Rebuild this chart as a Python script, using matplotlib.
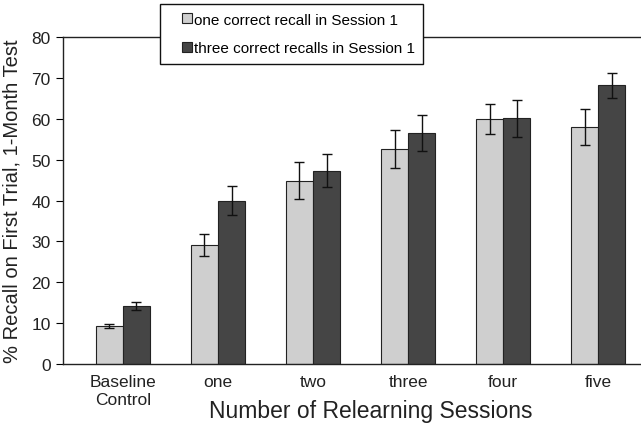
import matplotlib
matplotlib.use("Agg")
import matplotlib.pyplot as plt
from matplotlib.patches import Rectangle
import numpy as np

plt.rcParams['font.family'] = ['Liberation Sans', 'DejaVu Sans']

categories = ['Baseline\nControl', 'one', 'two', 'three', 'four', 'five']
one_recall = [9.3, 29.1, 44.8, 52.6, 59.9, 58.0]
one_recall_err = [0.6, 2.7, 4.5, 4.6, 3.6, 4.3]
three_recall = [14.2, 40.0, 47.3, 56.5, 60.1, 68.2]
three_recall_err = [0.9, 3.5, 4.0, 4.4, 4.6, 3.1]

fig = plt.figure(figsize=(6.41, 4.27), dpi=100)
ax = fig.add_axes([0.0983, 0.1452, 0.9017, 0.7658])

x = np.arange(len(categories))
w = 0.285
err_style = dict(elinewidth=1, capthick=1, ecolor='#111111')
ax.bar(x - w / 2, one_recall, w, color='#cfcfcf', edgecolor='#222222', linewidth=0.8,
       yerr=one_recall_err, capsize=3.5, error_kw=err_style,
       label='one correct recall in Session 1')
ax.bar(x + w / 2, three_recall, w, color='#454545', edgecolor='#222222', linewidth=0.8,
       yerr=three_recall_err, capsize=3.5, error_kw=err_style,
       label='three correct recalls in Session 1')

ax.set_xlim(-0.63, 5.45)
ax.set_ylim(0, 80)
ax.set_yticks(range(0, 81, 10))
ax.set_xticks(x)
ax.set_xticklabels(categories, fontsize=12.5, color='#222222', linespacing=1.25)
ax.tick_params(axis='y', labelsize=12.5, labelcolor='#222222', direction='out',
               length=5, width=0.8, pad=4)
ax.tick_params(axis='x', length=0, pad=7)
ax.spines['right'].set_visible(False)
for s in ['left', 'top', 'bottom']:
    ax.spines[s].set_linewidth(1.0)
    ax.spines[s].set_color('#222222')

ax.set_xlabel('Number of Relearning Sessions', fontsize=16.5, color='#222222', va='center')
ax.xaxis.set_label_coords(0.533, -0.142)
ax.set_ylabel('% Recall on First Trial, 1-Month Test', fontsize=14.5, color='#222222',
              labelpad=7)

# legend box sits over the top spine
box = Rectangle((160 / 641, 1 - 65 / 427), 263 / 641, 60 / 427, transform=fig.transFigure,
                facecolor='white', edgecolor='#111111', linewidth=1.0, zorder=5)
fig.patches.append(box)
leg = fig.legend(loc='center left', bbox_to_anchor=(182 / 641, 1 - 35 / 427), fontsize=11,
                 frameon=False, handlelength=0.65, handleheight=0.65, handletextpad=0.15,
                 labelspacing=0.95, borderpad=0, borderaxespad=0)
leg.set_zorder(6)

fig.savefig('out.png', dpi=100)
